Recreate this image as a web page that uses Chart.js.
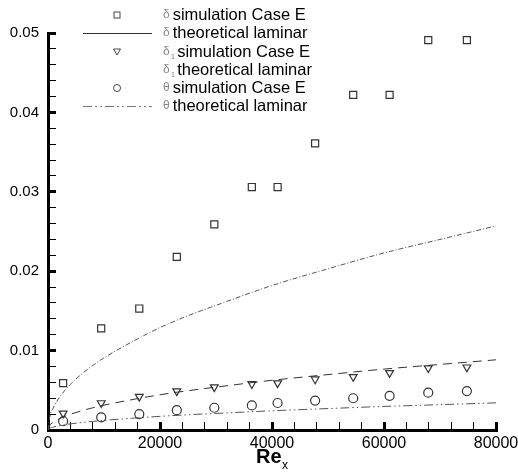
<!DOCTYPE html>
<html>
<head>
<meta charset="utf-8">
<script src="https://cdn.jsdelivr.net/npm/chart.js@4.4.0/dist/chart.umd.min.js"></script>
<style>
  html, body { margin: 0; padding: 0; background: #fff; }
  #wrap { width: 518px; height: 473px; }
</style>
</head>
<body>
<div id="wrap"><canvas id="bl"></canvas></div>
<script>
// simulation samples (Case E)
const simRe = [2700, 9500, 16300, 23000, 29700, 36400, 41000, 47700, 54500, 61000, 67900, 74800];
const simDelta = [0.0059, 0.0128, 0.0153, 0.0218, 0.0259, 0.0306, 0.0306, 0.0361, 0.0422, 0.0422, 0.0491, 0.0491];
const simDelta1 = [0.0021, 0.0034, 0.0042, 0.0049, 0.0054, 0.0058, 0.0059, 0.0064, 0.0067, 0.0072, 0.0078, 0.0079];
const simTheta = [0.0011, 0.0016, 0.0020, 0.0025, 0.0028, 0.0031, 0.0034, 0.0037, 0.0040, 0.0043, 0.0047, 0.0049];

// laminar curves
const lamRe = [0, 250, 1000, 2000, 4000, 6000, 8000, 10000, 15000, 20000, 25000, 30000, 40000, 50000, 60000, 70000, 80000];
const lamDelta = [0, 0.00144, 0.00287, 0.00407, 0.00575, 0.00704, 0.00813, 0.00909, 0.0111, 0.0129, 0.0144, 0.0157, 0.0182, 0.0203, 0.0223, 0.0240, 0.0257];
const lamDelta1 = [0, 0.0005, 0.00099, 0.0014, 0.00198, 0.00242, 0.0028, 0.00313, 0.00382, 0.00444, 0.00495, 0.0054, 0.00626, 0.00698, 0.00767, 0.00826, 0.00884];
const lamTheta = [0, 0.00019, 0.00038, 0.00054, 0.00077, 0.00094, 0.00108, 0.00121, 0.00148, 0.00172, 0.00192, 0.00209, 0.00242, 0.0027, 0.00297, 0.00319, 0.00342];

// labelled ticks, plus the minor step between them
const xTicks = [0, 20000, 40000, 60000, 80000];
const yTicks = [0, 0.01, 0.02, 0.03, 0.04, 0.05];
const xMinor = 4000;
const yMinor = 0.002;

const legendRows = [
    { sym: 'δ', sub: '', text: 'simulation Case E', marker: 'rect' },
    { sym: 'δ', sub: '', text: 'theoretical laminar', line: [] },
    { sym: 'δ', sub: '1', text: 'simulation Case E', marker: 'triangle' },
    { sym: 'δ', sub: '1', text: 'theoretical laminar' },
    { sym: 'θ', sub: '', text: 'simulation Case E', marker: 'circle' },
    { sym: 'θ', sub: '', text: 'theoretical laminar', line: [9, 3, 2, 3, 2, 3] },
];

const pts = (xs, ys) => xs.map((x, i) => ({ x: x, y: ys[i] }));
const isMajor = (v, list) => list.some(t => Math.abs(t - v) < Math.abs(list[1] - list[0]) * 1e-6);

const simSet = (data, style, r) => ({
    data: data,
    showLine: false,
    pointStyle: style,
    pointRotation: style === 'triangle' ? 180 : 0,
    pointRadius: r,
    pointBorderWidth: 1.2,
    pointBorderColor: '#333',
    pointBackgroundColor: 'rgba(0,0,0,0)',
});

const lamSet = (data, dash, color) => ({
    data: data,
    showLine: true,
    pointRadius: 0,
    borderWidth: 1,
    borderColor: color,
    borderDash: dash,
    cubicInterpolationMode: 'monotone',
    fill: false,
});

const FONT = '"Liberation Sans", Arial, sans-serif';

// axis title and the legend box
const decor = {
    id: 'decor',
    afterDraw(chart) {
        const ctx = chart.ctx;
        ctx.save();
        ctx.fillStyle = '#000';
        ctx.textBaseline = 'alphabetic';
        ctx.textAlign = 'left';
        ctx.font = 'bold 20px ' + FONT;
        ctx.fillText('Re', 256, 463);
        ctx.font = '12px ' + FONT;
        ctx.fillText('x', 282, 469);

        const symX = 117, lineL = 83, lineR = 152, textX = 163;
        const rowY = [15, 33, 52, 70, 88, 106];
        legendRows.forEach((row, i) => {
            const y = rowY[i];
            ctx.strokeStyle = '#444';
            ctx.lineWidth = 1;
            ctx.setLineDash([]);
            if (row.marker === 'rect') {
                ctx.strokeRect(symX - 3, y - 3, 6, 6);
            } else if (row.marker === 'triangle') {
                ctx.beginPath();
                ctx.moveTo(symX - 3.5, y - 3);
                ctx.lineTo(symX + 3.5, y - 3);
                ctx.lineTo(symX, y + 3);
                ctx.closePath();
                ctx.stroke();
            } else if (row.marker === 'circle') {
                ctx.beginPath();
                ctx.arc(symX, y, 3.5, 0, Math.PI * 2);
                ctx.stroke();
            }
            if (row.line) {
                ctx.strokeStyle = row.line.length ? '#777' : '#333';
                ctx.setLineDash(row.line);
                ctx.beginPath();
                ctx.moveTo(lineL, y + 0.5);
                ctx.lineTo(lineR, y + 0.5);
                ctx.stroke();
                ctx.setLineDash([]);
            }
            ctx.textBaseline = 'middle';
            ctx.fillStyle = '#888';
            ctx.font = '12px ' + FONT;
            ctx.fillText(row.sym, textX, y);
            let tx = textX + ctx.measureText(row.sym).width + 1;
            if (row.sub) {
                ctx.font = '8px ' + FONT;
                ctx.fillText(row.sub, tx, y + 5);
                tx += ctx.measureText(row.sub).width;
            }
            ctx.fillStyle = '#000';
            ctx.font = '16.5px ' + FONT;
            ctx.fillText(row.text, tx + 2, y);
        });
        ctx.restore();
    }
};

// ticks point into the plot: negative tickLength, thick at labelled values
const axisGrid = list => ({
    display: true,
    drawOnChartArea: false,
    drawTicks: true,
    tickLength: -8,
    tickColor: '#000',
    tickWidth: c => (c.tick && isMajor(c.tick.value, list) ? 3 : 1),
});

new Chart(document.getElementById('bl'), {
    type: 'scatter',
    data: {
        datasets: [
            simSet(pts(simRe, simDelta), 'rect', 5),
            lamSet(pts(lamRe, lamDelta), [5, 2, 1, 2], '#555'),
            simSet(pts(simRe, simDelta1), 'triangle', 4.5),
            lamSet(pts(lamRe, lamDelta1), [9, 6], '#333'),
            simSet(pts(simRe, simTheta), 'circle', 4.5),
            lamSet(pts(lamRe, lamTheta), [9, 3, 1.5, 3, 1.5, 3], '#555'),
        ]
    },
    options: {
        responsive: true,
        maintainAspectRatio: false,
        animation: false,
        events: [],
        layout: { padding: { left: 0, top: 33, right: 22, bottom: 0 } },
        plugins: {
            legend: { display: false },
            tooltip: { enabled: false },
        },
        scales: {
            x: {
                type: 'linear',
                min: xTicks[0],
                max: xTicks[xTicks.length - 1],
                afterFit: s => { s.height = 43; s.paddingLeft = 0; s.paddingRight = 0; },
                afterBuildTicks: s => {
                    const t = [];
                    for (let v = s.min; v <= s.max; v += xMinor) t.push({ value: v });
                    s.ticks = t;
                },
                grid: axisGrid(xTicks),
                border: { display: true, width: 3, color: '#000' },
                ticks: {
                    padding: 12,
                    autoSkip: false,
                    maxRotation: 0,
                    color: '#000',
                    font: { family: FONT, size: 16 },
                    callback: v => (isMajor(v, xTicks) ? String(v) : ''),
                },
            },
            y: {
                type: 'linear',
                min: yTicks[0],
                max: yTicks[yTicks.length - 1],
                afterFit: s => { s.width = 48; s.paddingTop = 0; s.paddingBottom = 0; },
                afterBuildTicks: s => {
                    const t = [];
                    const n = Math.round((s.max - s.min) / yMinor);
                    for (let k = 0; k <= n; k++) t.push({ value: s.min + k * yMinor });
                    s.ticks = t;
                },
                grid: axisGrid(yTicks),
                border: { display: true, width: 3, color: '#000' },
                ticks: {
                    padding: 17,
                    autoSkip: false,
                    color: '#000',
                    font: { family: FONT, size: 15 },
                    callback: v => (isMajor(v, yTicks) ? (v === 0 ? '0' : v.toFixed(2)) : ''),
                },
            },
        },
    },
    plugins: [decor],
});
</script>
</body>
</html>
